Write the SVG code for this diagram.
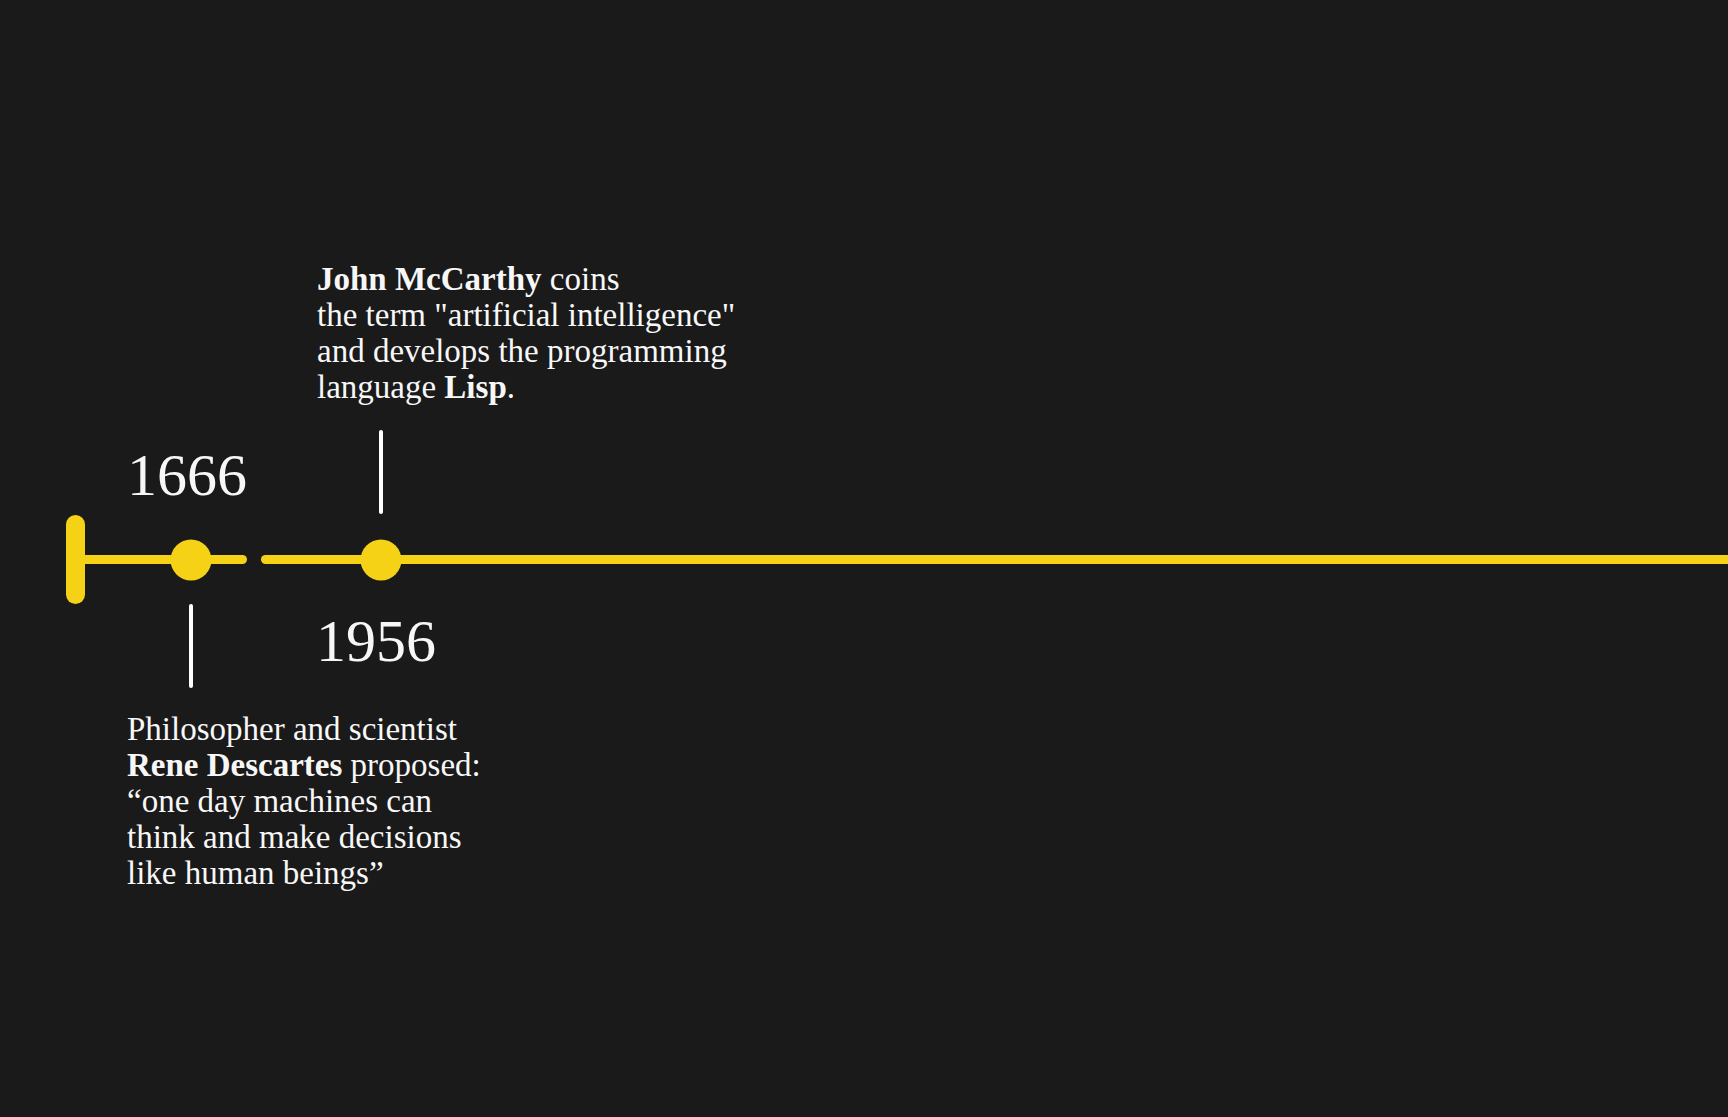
<svg xmlns="http://www.w3.org/2000/svg" width="1728" height="1117" viewBox="0 0 1728 1117">
<style>
.txt{font-family:"Liberation Serif","Times New Roman",serif;fill:#f7f7f7;font-size:33px}
.year{font-family:"Liberation Serif","Times New Roman",serif;fill:#f7f7f7;font-size:60px}
.b{font-weight:bold}
.tl{stroke:#f5d216;stroke-width:9;stroke-linecap:round;fill:none}
.tick{stroke:#ffffff;stroke-width:4;stroke-linecap:round}
.dot{fill:#f5d216}
</style>
<rect width="1728" height="1117" fill="#1a1a1a"/>
<g id="connectors">
<line class="tl" x1="76" y1="559.5" x2="242.5" y2="559.5"/>
<line class="tl" x1="265.5" y1="559.5" x2="1740" y2="559.5"/>
<line class="tick" x1="191" y1="606" x2="191" y2="686"/>
<line class="tick" x1="381" y1="432" x2="381" y2="512"/>
</g>
<g id="start-cap">
<rect x="66" y="515" width="19" height="89" rx="9.5" fill="#f5d216"/>
</g>
<g id="node-1666">
<circle class="dot" cx="191" cy="560" r="20.5"/>
<text class="year" x="127" y="495">1666</text>
<text class="txt" x="127" y="740">Philosopher and scientist</text>
<text class="txt" x="127" y="776"><tspan class="b">Rene Descartes</tspan> proposed:</text>
<text class="txt" x="127" y="812">“one day machines can</text>
<text class="txt" x="127" y="848">think and make decisions</text>
<text class="txt" x="127" y="884">like human beings”</text>
</g>
<g id="node-1956">
<circle class="dot" cx="381" cy="560" r="20.5"/>
<text class="year" x="316" y="661">1956</text>
<text class="txt" x="317" y="290"><tspan class="b">John McCarthy</tspan> coins</text>
<text class="txt" x="317" y="326">the term "artificial intelligence"</text>
<text class="txt" x="317" y="362">and develops the programming</text>
<text class="txt" x="317" y="398">language <tspan class="b">Lisp</tspan>.</text>
</g>
</svg>
